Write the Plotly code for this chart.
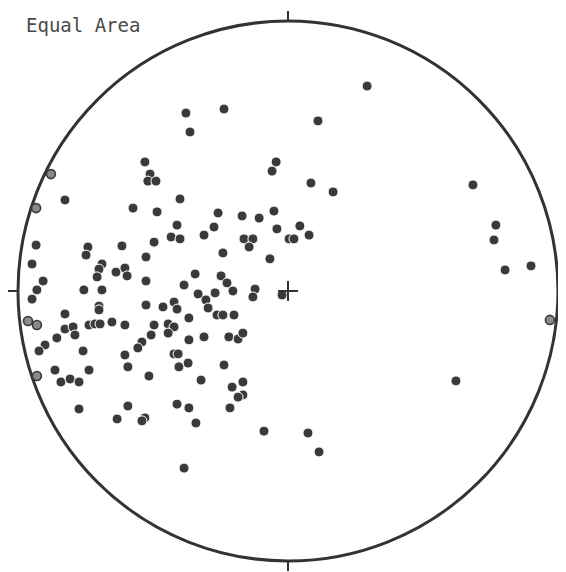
import plotly.graph_objects as go

# Equal-area net, projected coordinates (unit radius): east (x), north (y)
dark_x = [0.293, -0.237, -0.378, 0.111, -0.363, -0.530, -0.511, -0.519, -0.489, -0.044,
          -0.059, 0.085, 0.167, 0.685, -0.826, -0.400, -0.574, -0.485, -0.411, -0.433,
          -0.400, -0.933, -0.741, -0.748, -0.615, -0.496, -0.526, -0.948, -0.689, -0.700,
          -0.707, -0.637, -0.604, -0.596, -0.526, -0.344, -0.907, -0.930, -0.948, -0.756,
          -0.689, -0.385, -0.333, -0.526, -0.463, -0.422, -0.411, -0.700, -0.700, -0.826,
          -0.367, -0.826, -0.796, -0.789, -0.737, -0.715, -0.696, -0.652, -0.604, -0.496,
          -0.507, -0.444, -0.422, -0.444, -0.856, -0.900, -0.922, -0.759, -0.541, -0.556,
          -0.367, -0.604, -0.422, -0.407, -0.593, -0.404, -0.370, -0.515, -0.863, -0.737,
          -0.841, -0.807, -0.774, -0.322, -0.259, -0.170, -0.107, -0.052, -0.274, -0.311,
          -0.163, -0.130, -0.144, -0.041, 0.044, 0.004, 0.022, 0.078, -0.241, -0.067,
          -0.248, -0.226, -0.204, -0.270, -0.304, -0.296, -0.122, -0.130, -0.022, -0.263,
          -0.241, -0.200, -0.311, -0.219, -0.185, -0.167, -0.237, -0.207, -0.167, -0.774,
          -0.593, -0.633, -0.530, -0.541, -0.411, -0.367, -0.341, -0.385, -0.167, -0.185,
          -0.215, -0.089, 0.074, 0.115, 0.770, 0.763, 0.804, 0.900, 0.622]
dark_y = [0.759, 0.674, 0.659, 0.630, 0.589, 0.478, 0.433, 0.407, 0.407, 0.478,
          0.444, 0.400, 0.367, 0.393, 0.337, 0.341, 0.307, 0.293, 0.244, 0.200,
          0.193, 0.170, 0.163, 0.133, 0.167, 0.181, 0.126, 0.100, 0.100, 0.081,
          0.052, 0.070, 0.085, 0.056, 0.037, 0.063, 0.037, 0.004, -0.030, 0.004,
          0.004, 0.022, -0.011, -0.052, -0.059, -0.041, -0.067, -0.056, -0.070, -0.085,
          -0.100, -0.141, -0.133, -0.163, -0.126, -0.122, -0.122, -0.115, -0.126, -0.126,
          -0.163, -0.122, -0.133, -0.156, -0.174, -0.200, -0.222, -0.222, -0.189, -0.211,
          -0.181, -0.237, -0.233, -0.233, -0.281, -0.281, -0.267, -0.315, -0.293, -0.293,
          -0.337, -0.326, -0.337, -0.330, 0.289, 0.278, 0.270, 0.296, 0.237, 0.207,
          0.193, 0.193, 0.163, 0.230, 0.241, 0.193, 0.193, 0.207, 0.141, 0.119,
          0.056, 0.030, 0.000, -0.007, -0.033, -0.063, 0.007, -0.022, -0.015, -0.089,
          -0.089, -0.089, -0.170, -0.170, -0.178, -0.156, -0.274, -0.356, -0.337, -0.437,
          -0.426, -0.474, -0.470, -0.481, -0.419, -0.433, -0.489, -0.656, -0.385, -0.393,
          -0.433, -0.519, -0.526, -0.596, 0.244, 0.189, 0.078, 0.093, -0.333]

open_x = [-0.878, -0.933, -0.963, -0.930, -0.930, 0.970]
open_y = [0.433, 0.307, -0.111, -0.126, -0.315, -0.107]

title_text = "Equal Area"

# page has an 8px body margin; the figure fills the rest of the 566x572 window
PAGE_OFF = 8
W, H = 566 - PAGE_OFF, 572 - PAGE_OFF
R_PX = 270.0
CX, CY = 288.0 - PAGE_OFF, 291.0 - PAGE_OFF
x_range = [-CX / R_PX, (W - CX) / R_PX]
y_range = [(CY - H) / R_PX, CY / R_PX]

ink = "#333333"
fig = go.Figure()

fig.add_trace(go.Scatter(
    x=open_x, y=open_y, mode="markers",
    marker=dict(size=9, color="#8a8a8a", line=dict(color="#3a3a3a", width=1.6)),
    hoverinfo="skip", showlegend=False))

fig.add_trace(go.Scatter(
    x=dark_x, y=dark_y, mode="markers",
    marker=dict(size=10, color="#3a3a3a", line=dict(color="white", width=1)),
    hoverinfo="skip", showlegend=False))

# primitive circle
fig.add_shape(type="circle", x0=-1, y0=-1, x1=1, y1=1,
              line=dict(color=ink, width=3), layer="below")
t = 10 / R_PX
for (xa, ya, xb, yb) in [(0, 1, 0, 1 + t), (0, -1, 0, -1 - t),
                         (-1, 0, -1 - t, 0), (1, 0, 1 + t, 0)]:
    fig.add_shape(type="line", x0=xa, y0=ya, x1=xb, y1=yb,
                  line=dict(color=ink, width=2))
c = 10 / R_PX
fig.add_shape(type="line", x0=-c, y0=0, x1=c, y1=0, line=dict(color=ink, width=2))
fig.add_shape(type="line", x0=0, y0=-c, x1=0, y1=c, line=dict(color=ink, width=2))

fig.add_annotation(text=title_text, xref="paper", yref="paper",
                   x=(24 - PAGE_OFF) / W, y=1 - (25 - PAGE_OFF) / H,
                   xanchor="left", yanchor="middle", showarrow=False,
                   font=dict(family="DejaVu Sans Mono", size=19, color="#4a4a4a"))

fig.update_layout(
    width=W, height=H, margin=dict(l=0, r=0, t=0, b=0),
    paper_bgcolor="white", plot_bgcolor="white",
    xaxis=dict(range=x_range, visible=False, fixedrange=True),
    yaxis=dict(range=y_range, visible=False, fixedrange=True),
)

fig.write_html("out.html")
